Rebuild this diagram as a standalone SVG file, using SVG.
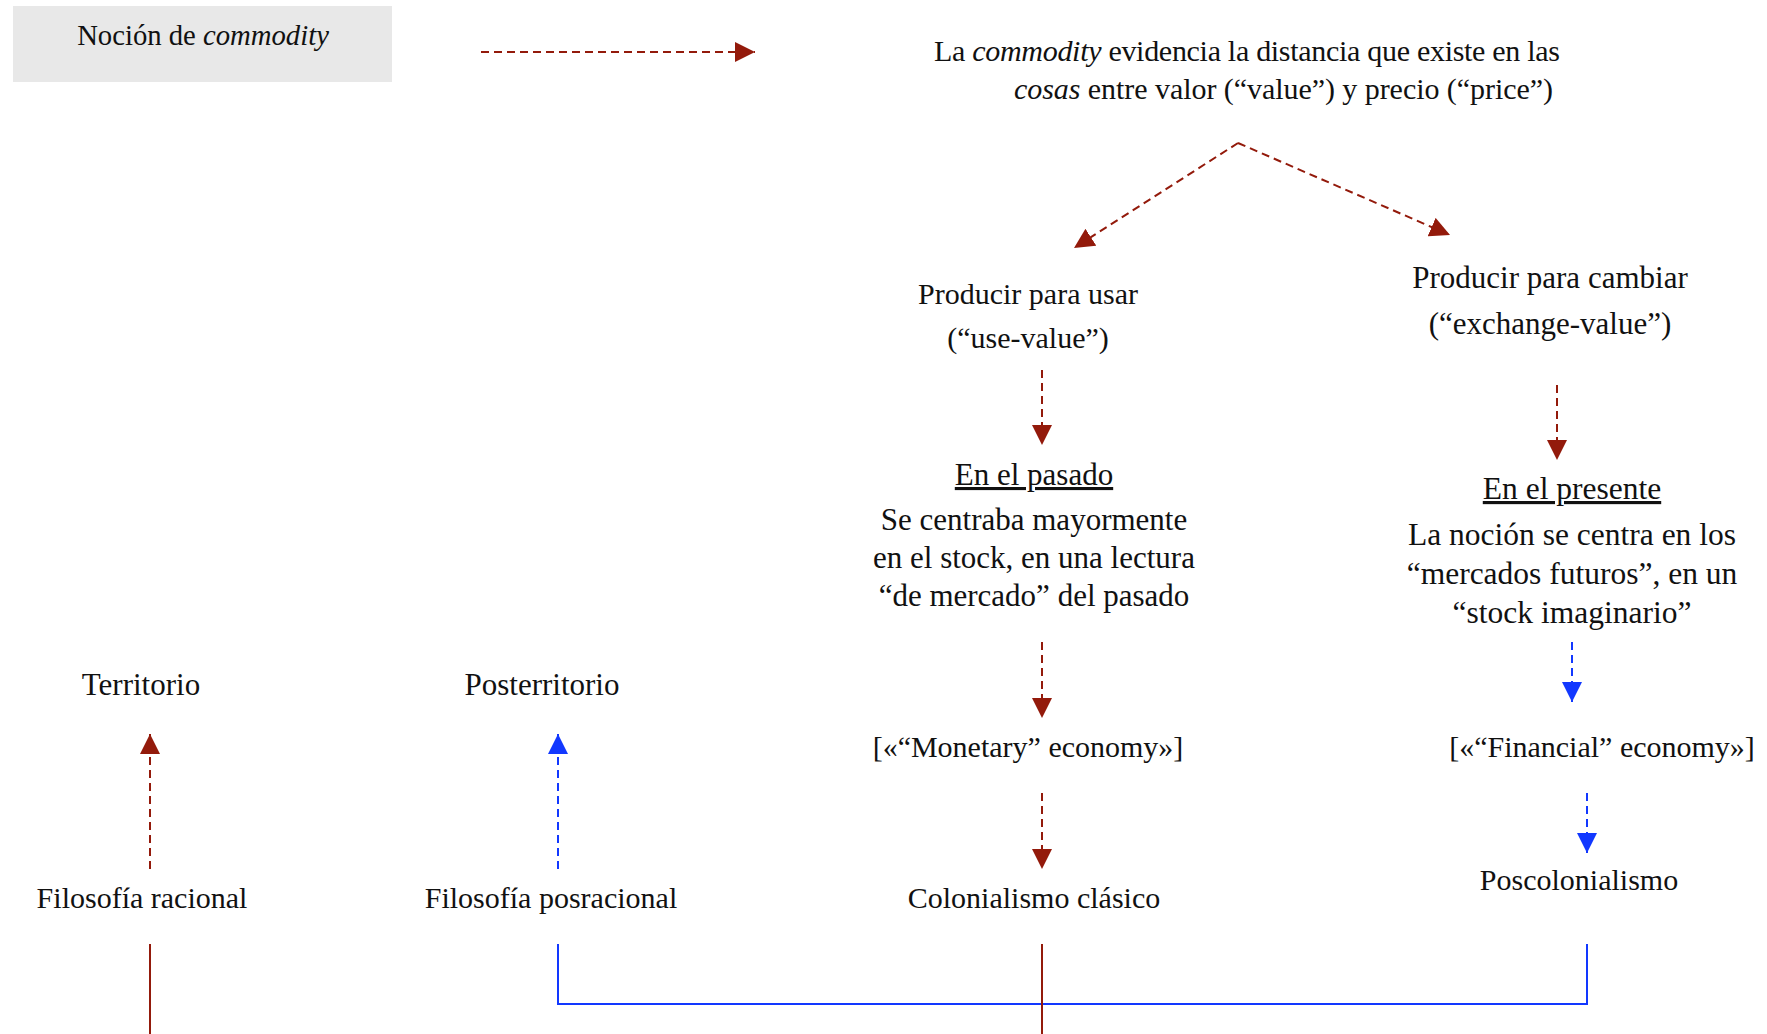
<svg xmlns="http://www.w3.org/2000/svg" width="1767" height="1034" viewBox="0 0 1767 1034">
<defs>
<style>
text{font-family:"Liberation Serif","Times New Roman",serif;fill:#111;font-size:30px}
.c{text-anchor:middle}
.it{font-style:italic}
.m{font-size:31px}
.l{font-size:31.5px}
.n{font-size:28.7px}
.r{stroke:#931a0b;fill:none}
.b{stroke:#1238ff;fill:none}
.d{stroke-width:2;stroke-dasharray:8 5}
.s{stroke-width:2}
</style>
<marker id="ar" viewBox="0 0 10 10" refX="10" refY="5" markerWidth="20" markerHeight="20" markerUnits="userSpaceOnUse" orient="auto"><path d="M0,0L10,5L0,10z" fill="#931a0b"/></marker>
<marker id="ab" viewBox="0 0 10 10" refX="10" refY="5" markerWidth="20" markerHeight="20" markerUnits="userSpaceOnUse" orient="auto"><path d="M0,0L10,5L0,10z" fill="#1238ff"/></marker>
</defs>
<rect width="1767" height="1034" fill="#fff"/>
<g id="nocion"><rect x="13" y="6" width="379" height="76" fill="#e8e8e8"/><text class="c n" x="203" y="45">Noción de <tspan class="it">commodity</tspan></text></g>
<g id="distancia"><text x="934" y="61" textLength="626">La <tspan class="it">commodity</tspan> evidencia la distancia que existe en las</text><text x="1014" y="99" textLength="539"><tspan class="it">cosas</tspan> entre valor (“value”) y precio (“price”)</text></g>
<g id="usar"><text class="c" x="1028" y="304">Producir para usar</text><text class="c" x="1028" y="348">(“use-value”)</text></g>
<g id="cambiar"><text class="c m" x="1550" y="288">Producir para cambiar</text><text class="c m" x="1550" y="334">(“exchange-value”)</text></g>
<g id="pasado"><text class="c m" x="1034" y="485" text-decoration="underline">En el pasado</text><text class="c m" x="1034" y="530">Se centraba mayormente</text><text class="c m" x="1034" y="568">en el stock, en una lectura</text><text class="c m" x="1034" y="606">“de mercado” del pasado</text></g>
<g id="presente"><text class="c l" x="1572" y="499" text-decoration="underline">En el presente</text><text class="c l" x="1572" y="545">La noción se centra en los</text><text class="c l" x="1572" y="584">“mercados futuros”, en un</text><text class="c l" x="1572" y="623">“stock imaginario”</text></g>
<g id="monetary"><text class="c" x="1028" y="757">[«“Monetary” economy»]</text></g>
<g id="financial"><text class="c" x="1602" y="757">[«“Financial” economy»]</text></g>
<g id="colonialismo"><text class="c" x="1034" y="908">Colonialismo clásico</text></g>
<g id="poscolonialismo"><text class="c" x="1579" y="890">Poscolonialismo</text></g>
<g id="territorio"><text class="c m" x="141" y="695">Territorio</text></g>
<g id="posterritorio"><text class="c m" x="542" y="695">Posterritorio</text></g>
<g id="racional"><text class="c" x="142" y="908">Filosofía racional</text></g>
<g id="posracional"><text class="c" x="551" y="908">Filosofía posracional</text></g>
<g id="connectors">
<path class="r d" d="M481,52H755" marker-end="url(#ar)"/>
<path class="r d" d="M1238,143L1450,235" marker-end="url(#ar)"/>
<path class="r d" d="M1238,143L1074,248" marker-end="url(#ar)"/>
<path class="r d" d="M1042,370V445" marker-end="url(#ar)"/>
<path class="r d" d="M1557,385V460" marker-end="url(#ar)"/>
<path class="r d" d="M1042,642V718" marker-end="url(#ar)"/>
<path class="b d" d="M1572,642V702" marker-end="url(#ab)"/>
<path class="r d" d="M1042,793V869" marker-end="url(#ar)"/>
<path class="b d" d="M1587,793V853" marker-end="url(#ab)"/>
<path class="r d" d="M150,869V734" marker-end="url(#ar)"/>
<path class="b d" d="M558,869V734" marker-end="url(#ab)"/>
<path class="r s" d="M150,944V1034"/>
<path class="b s" d="M558,944V1004H1587V944"/>
<path class="r s" d="M1042,944V1034"/>
</g>
</svg>
